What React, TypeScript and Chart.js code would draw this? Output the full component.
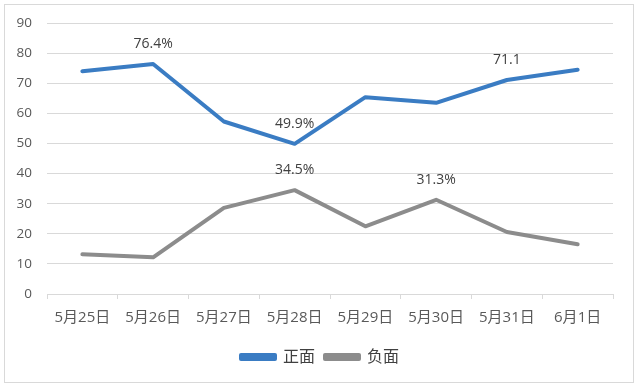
import React, { useEffect, useRef } from "react";
import { Chart, registerables } from "chart.js";

Chart.register(...registerables);

const categories = ["5月25日", "5月26日", "5月27日", "5月28日", "5月29日", "5月30日", "5月31日", "6月1日"];
const positiveValues = [74.0, 76.4, 57.3, 49.9, 65.4, 63.5, 71.1, 74.5];
const negativeValues = [13.2, 12.2, 28.6, 34.5, 22.5, 31.3, 20.6, 16.5];
const positiveLabels = ["", "76.4%", "", "49.9%", "", "", "71.1", ""];
const negativeLabels = ["", "", "", "34.5%", "", "31.3%", "", ""];
const seriesNames = ["正面", "负面"];

const FONT = "'Open Sans', 'Noto Sans CJK SC', sans-serif";

const labelPlugin = {
  id: "pointLabels",
  afterLayout(chart: any) {
    const lg = chart.legend;
    if (lg) {
      lg.left += 13.5;
      lg.right += 13.5;
    }
  },
  afterDatasetsDraw(chart: any) {
    const ctx = chart.ctx;
    const allLabels = [positiveLabels, negativeLabels];
    ctx.save();
    ctx.font = `14px ${FONT}`;
    ctx.fillStyle = "#404040";
    ctx.textAlign = "center";
    ctx.textBaseline = "middle";
    chart.data.datasets.forEach((_ds: any, di: number) => {
      const meta = chart.getDatasetMeta(di);
      meta.data.forEach((pt: any, i: number) => {
        const txt = allLabels[di][i];
        if (txt) ctx.fillText(txt, pt.x, pt.y - 20);
      });
    });
    ctx.restore();
  },
};

export default function App() {
  const ref = useRef<HTMLCanvasElement>(null);
  useEffect(() => {
    if (!ref.current) return;
    const chart = new Chart(ref.current, {
      type: "line",
      data: {
        labels: categories,
        datasets: [
          {
            label: seriesNames[0],
            data: positiveValues,
            borderColor: "#3a7cc3",
            backgroundColor: "#3a7cc3",
            borderWidth: 4,
            pointRadius: 0,
            tension: 0,
            borderJoinStyle: "round",
            borderCapStyle: "round",
          },
          {
            label: seriesNames[1],
            data: negativeValues,
            borderColor: "#8c8c8c",
            backgroundColor: "#8c8c8c",
            borderWidth: 4,
            pointRadius: 0,
            tension: 0,
            borderJoinStyle: "round",
            borderCapStyle: "round",
          },
        ],
      },
      options: {
        responsive: false,
        animation: false,
        layout: { padding: { left: 0, right: 27, top: 23, bottom: 9 } },
        plugins: {
          legend: {
            position: "bottom",
            labels: {
              boxWidth: 34,
              boxHeight: 4,
              padding: 10,
              color: "#404040",
              font: { family: FONT, size: 16 },
            },
          },
          tooltip: { enabled: false },
        },
        scales: {
          x: {
            offset: true,
            grid: {
              offset: true,
              drawOnChartArea: false,
              drawTicks: true,
              tickLength: 5,
              color: "#d9d9d9",
            },
            border: { display: true, color: "#d9d9d9" },
            ticks: {
              color: "#595959",
              font: { family: FONT, size: 15 },
              padding: 10,
              maxRotation: 0,
            },
            afterFit(scale: any) {
              scale.height = 45;
            },
          },
          y: {
            min: 0,
            max: 90,
            ticks: {
              stepSize: 10,
              color: "#595959",
              font: { family: FONT, size: 13.5 },
              padding: 15,
            },
            grid: { color: "#d9d9d9", drawTicks: false },
            border: { display: false },
            afterFit(scale: any) {
              scale.width = 47;
            },
          },
        },
      },
      plugins: [labelPlugin],
    } as any);
    return () => chart.destroy();
  }, []);

  return (
    <div style={{ position: "fixed", left: 0, top: 0, width: 640, height: 384, background: "#fff" }}>
      <div
        style={{
          position: "absolute",
          left: 4,
          top: 4,
          width: 628,
          height: 377,
          border: "1px solid #d9d9d9",
        }}
      />
      <canvas ref={ref} width={640} height={384} style={{ position: "absolute", left: 0, top: 0 }} />
    </div>
  );
}
